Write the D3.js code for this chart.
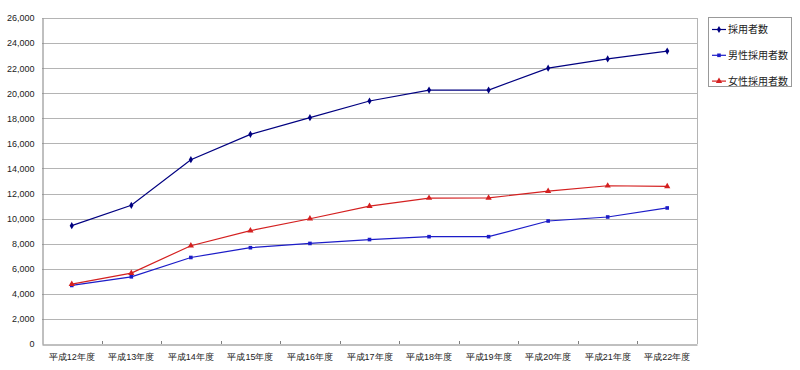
<!DOCTYPE html>
<html>
<head>
<meta charset="utf-8">
<script src="https://cdn.jsdelivr.net/npm/d3@7"></script>
<style>
  body { margin: 0; background: #fff; }
  svg { display: block; font-family: "Noto Sans CJK JP", "Noto Sans", sans-serif; }
</style>
</head>
<body>
<svg id="chart"></svg>
<script>
// data
var years = ["平成12年度", "平成13年度", "平成14年度", "平成15年度", "平成16年度", "平成17年度",
             "平成18年度", "平成19年度", "平成20年度", "平成21年度", "平成22年度"];
var total  = [9440, 11060, 14700, 16720, 18050, 19380, 20250, 20250, 22000, 22740, 23360];
var male   = [4670, 5360, 6900, 7680, 8020, 8330, 8560, 8560, 9810, 10130, 10850];
var female = [4780, 5650, 7840, 9040, 9990, 11000, 11640, 11650, 12190, 12620, 12570];
var seriesNames = ["採用者数", "男性採用者数", "女性採用者数"];
var yTicks = d3.range(0, 26001, 2000);

var dimensions = {
    width: 800,
    height: 370,
    margins: { top: 18, right: 103, bottom: 26, left: 42 }
};

var innerW = dimensions.width - dimensions.margins.left - dimensions.margins.right;
var innerH = dimensions.height - dimensions.margins.top - dimensions.margins.bottom;

var svg = d3.select("#chart")
    .attr("width", dimensions.width)
    .attr("height", dimensions.height)
    .append("g")
    .attr("transform", "translate(" + dimensions.margins.left + "," + dimensions.margins.top + ")");

var xScale = d3.scaleBand().domain(years).range([0, innerW]);
var yScale = d3.scaleLinear().domain([0, 26000]).range([innerH, 0]);

// gridlines
svg.append("g")
    .selectAll("line")
    .data(yTicks.filter(d => d > 0))
    .enter()
    .append("line")
    .attr("x1", 0)
    .attr("x2", innerW)
    .attr("y1", d => Math.round(yScale(d)) + 0.5)
    .attr("y2", d => Math.round(yScale(d)) + 0.5)
    .attr("stroke", "#b4b4b4");

// right border of plot area
svg.append("line")
    .attr("x1", innerW + 0.5).attr("x2", innerW + 0.5)
    .attr("y1", 0).attr("y2", innerH)
    .attr("stroke", "#b4b4b4");

// y axis
var yAxis = svg.append("g")
    .attr("transform", "translate(0.5,0)")
    .call(d3.axisLeft(yScale).tickValues(yTicks).tickFormat(d3.format(",")).tickSize(0).tickPadding(8));
yAxis.select(".domain").attr("stroke", "#808080");
yAxis.selectAll("text").attr("font-size", "9px").attr("fill", "#222");

// x axis
var xAxis = svg.append("g")
    .attr("transform", "translate(0," + (Math.round(innerH) + 0.5) + ")")
    .call(d3.axisBottom(xScale).tickSize(0).tickPadding(9));
xAxis.select(".domain").attr("stroke", "#808080");
xAxis.selectAll("text").attr("font-size", "9px").attr("fill", "#222");

// category boundary ticks
svg.append("g")
    .selectAll("line")
    .data(years.slice(1))
    .enter()
    .append("line")
    .attr("x1", d => Math.round(xScale(d)) + 0.5)
    .attr("x2", d => Math.round(xScale(d)) + 0.5)
    .attr("y1", innerH - 3)
    .attr("y2", innerH)
    .attr("stroke", "#808080");

var series = [
    { name: seriesNames[0], values: total,  color: "#000080", shape: d3.symbolDiamond, size: 15 },
    { name: seriesNames[1], values: male,   color: "#1c1cc8", shape: d3.symbolSquare,  size: 13 },
    { name: seriesNames[2], values: female, color: "#d42020", shape: d3.symbolTriangle, size: 17 }
];

var line = d3.line()
    .x((d, i) => xScale(years[i]) + xScale.bandwidth() / 2)
    .y(d => yScale(d));

series.forEach(function(s) {
    svg.append("path")
        .datum(s.values)
        .attr("fill", "none")
        .attr("stroke", s.color)
        .attr("stroke-width", 1.2)
        .attr("d", line);

    svg.selectAll(null)
        .data(s.values)
        .enter()
        .append("path")
        .attr("transform", (d, i) => "translate(" + (xScale(years[i]) + xScale.bandwidth() / 2) + "," + yScale(d) + ")")
        .attr("d", d3.symbol().type(s.shape).size(s.size))
        .attr("fill", s.color);
});

// legend
var legend = d3.select("#chart").append("g")
    .attr("transform", "translate(708,17)");

legend.append("rect")
    .attr("x", 0.5).attr("y", 0.5)
    .attr("width", 83).attr("height", 69)
    .attr("fill", "#fff")
    .attr("stroke", "#999");

var items = legend.selectAll("g.item")
    .data(series)
    .enter()
    .append("g")
    .attr("class", "item")
    .attr("transform", (d, i) => "translate(0," + (12.5 + i * 25.8) + ")");

items.append("line")
    .attr("x1", 4).attr("x2", 18)
    .attr("stroke", d => d.color)
    .attr("stroke-width", 1.2);

items.append("path")
    .attr("transform", "translate(11,0)")
    .attr("d", d => d3.symbol().type(d.shape).size(d.size)())
    .attr("fill", d => d.color);

items.append("text")
    .attr("x", 20)
    .attr("dy", "0.35em")
    .attr("font-size", "10px")
    .attr("fill", "#222")
    .text(d => d.name);
</script>
</body>
</html>
